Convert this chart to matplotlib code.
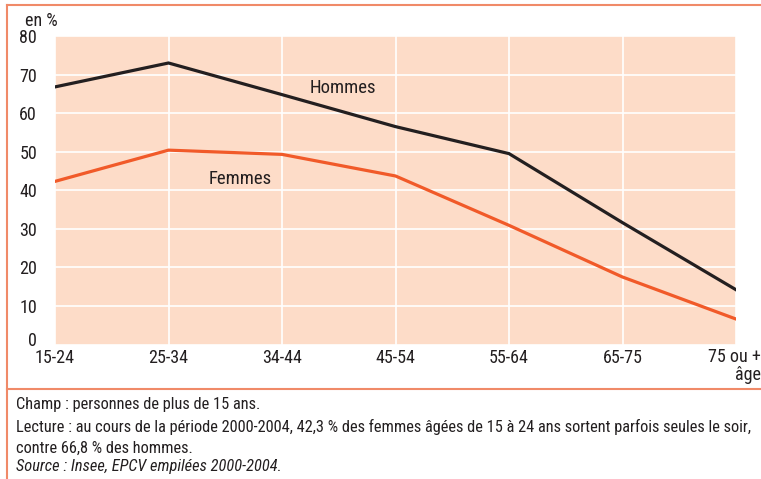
import matplotlib
matplotlib.use("Agg")
import matplotlib.pyplot as plt
import matplotlib.transforms as mtransforms
from matplotlib.lines import Line2D

categories = ["15-24", "25-34", "34-44", "45-54", "55-64", "65-75", "75 ou +\nâge"]
hommes = [66.8, 73.0, 64.8, 56.5, 49.5, 31.6, 14.2]
femmes = [42.3, 50.4, 49.3, 43.7, 30.9, 17.5, 6.6]
yticks = [0, 10, 20, 30, 40, 50, 60, 70, 80]

W, H = 761, 479
FAM = ["Roboto Condensed", "Archivo Narrow", "DejaVu Sans"]
plt.rcParams["font.family"] = FAM
TXT = "#231f20"
BG = "#fddcc8"
ORANGE = "#f15a29"
FRAME = "#f08a68"

fig = plt.figure(figsize=(W / 100, H / 100), dpi=100)
ax = fig.add_axes([55 / W, 1 - 344.5 / H, (736 - 55) / W, (344.5 - 36) / H])
ax.set_facecolor(BG)
x = list(range(len(categories)))
ax.plot(x, hommes, color=TXT, lw=2.3, solid_joinstyle="miter", zorder=3)
ax.plot(x, femmes, color=ORANGE, lw=2.3, solid_joinstyle="miter", zorder=3)
ax.set_xlim(0, len(categories) - 1)
ax.set_ylim(0, 80)
ax.set_yticks(yticks)
ax.set_yticklabels([str(v) for v in yticks], fontsize=13, color=TXT)
ax.set_xticks(x)
ax.set_xticklabels(categories[:-1] + [""], fontsize=13, color=TXT)
ax.tick_params(length=0, pad=3)
ax.tick_params(axis="y", pad=13)
ax.grid(True, color="white", lw=1.2)
ax.set_axisbelow(True)
for s in ax.spines.values():
    s.set_visible(False)
lab0 = ax.get_yticklabels()[0]
lab0.set_transform(lab0.get_transform() + mtransforms.ScaledTranslation(0, 5 / 100, fig.dpi_scale_trans))

ax.text(2.54, 66.5, "Hommes", fontsize=13.5, color=TXT, ha="center", va="center")
ax.text(1.636, 42.8, "Femmes", fontsize=13.5, color=TXT, ha="center", va="center")

fig.text(761 / W, 1 - 348 / H, categories[-1], fontsize=13, color=TXT,
         ha="right", va="top", multialignment="right", linespacing=1.0)
fig.text(25 / W, 1 - 21 / H, "en %", fontsize=13, color=TXT, ha="left", va="center")

# frame lines
fig.add_artist(Line2D([7 / W, 1], [1 - 5 / H, 1 - 5 / H], color=FRAME, lw=1.5))
fig.add_artist(Line2D([7 / W, 7 / W], [1 - 5 / H, 0], color=FRAME, lw=1.5))
fig.add_artist(Line2D([7 / W, 1], [1 - 389 / H, 1 - 389 / H], color=FRAME, lw=1.5))

notes = [
    ("Champ : personnes de plus de 15 ans.", "normal", 405),
    ("Lecture : au cours de la période 2000-2004, 42,3 % des femmes âgées de 15 à 24 ans sortent parfois seules le soir,", "normal", 427),
    ("contre 66,8 % des hommes.", "normal", 448),
    ("Source : Insee, EPCV empilées 2000-2004.", "italic", 467),
]
for t, st, yy in notes:
    fig.text(16 / W, 1 - yy / H, t, fontsize=11.8, color=TXT, style=st, ha="left", va="center")

fig.savefig("out.png", dpi=100)
